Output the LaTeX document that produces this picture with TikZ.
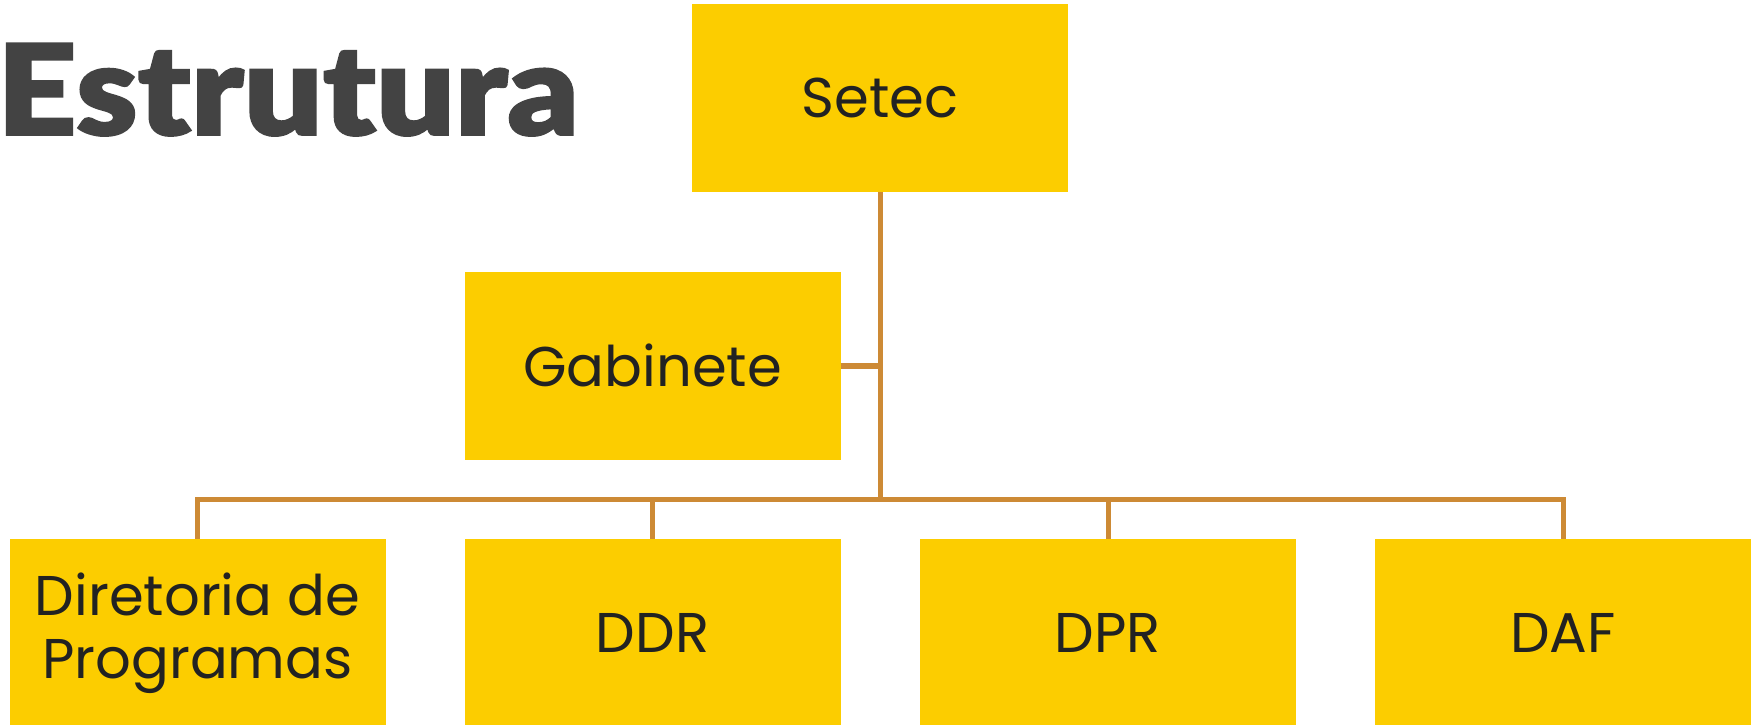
\documentclass[tikz,border=0pt]{standalone}
\usepackage{fontspec}
\setmainfont{Poppins}
\newfontfamily\titlefont{Lato Black}[FakeBold=1.5]
\definecolor{boxfill}{HTML}{FCCD00}
\definecolor{linecol}{HTML}{CD8A35}
\definecolor{txtcol}{HTML}{222222}
\definecolor{titlecol}{HTML}{434343}
\begin{document}
\begin{tikzpicture}[x=1pt,y=-1pt,
  orgbox/.style={fill=boxfill, draw=none, minimum width=376pt, minimum height=188pt, inner sep=0pt,
     text=txtcol, align=center, font=\fontsize{56}{63}\selectfont},
  busline/.style={draw=linecol, line width=5.5pt},
  dropline/.style={draw=linecol, line width=5pt}]
\useasboundingbox (0,0) rectangle (1751,725);
\node[anchor=base west, xscale=1.1, text=titlecol, font=\titlefont\fontsize{126}{126}\selectfont, inner sep=0pt] (title) at (-3,135) {Estrutura};
\node[orgbox, minimum height=187.5pt] (setec) at (879.75,98.25) {Setec};
\node[orgbox] (gab) at (652.5,365.75) {Gabinete};
\node[orgbox] (dp) at (197.5,633) {Diretoria de\\Programas};
\node[orgbox] (ddr) at (652.5,633) {DDR};
\node[orgbox] (dpr) at (1108,633) {DPR};
\node[orgbox] (daf) at (1563,633) {DAF};
\coordinate (hub) at (880.4,499.5);
\draw[busline] (setec.south -| hub) -- (hub);
\draw[busline] (gab.east) -- (gab.east -| hub);
\draw[busline, line cap=rect] (dp.north |- hub) -- (daf.north |- hub);
\draw[dropline] (dp.north |- hub) -- (dp.north);
\draw[dropline] (ddr.north |- hub) -- (ddr.north);
\draw[dropline] (dpr.north |- hub) -- (dpr.north);
\draw[dropline] (daf.north |- hub) -- (daf.north);
\end{tikzpicture}
\end{document}
